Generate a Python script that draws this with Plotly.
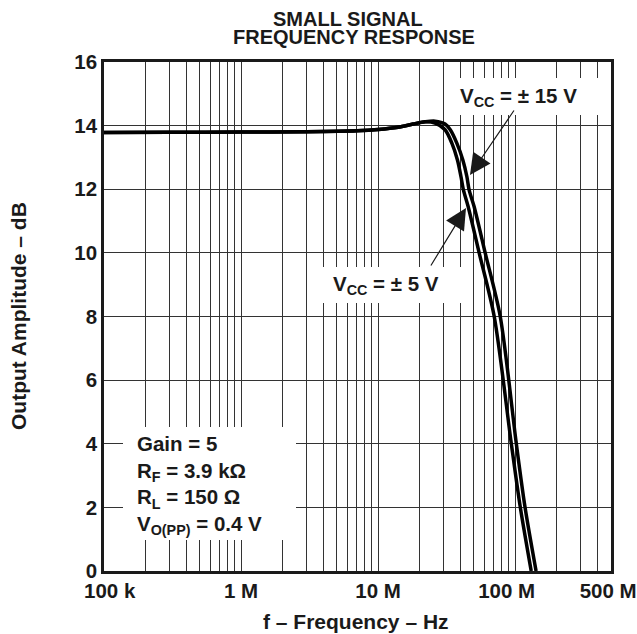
import math
import plotly.graph_objects as go

# ---- data ----
freq_5v = [1e5, 3e5, 1e6, 3e6, 7e6, 1.0e7, 1.4e7, 1.8e7, 2.2e7, 2.6e7, 3.08e7, 3.45e7,
           3.79e7, 4.02e7, 4.19e7, 4.54e7, 5.46e7, 7.03e7, 9.35e7, 1.086e8, 1.309e8]
amp_5v = [13.78, 13.79, 13.80, 13.81, 13.84, 13.88, 13.95, 14.05, 14.12, 14.08, 13.87, 13.45,
          12.92, 12.40, 11.98, 11.45, 10.0, 8.0, 4.03, 2.04, 0.0]

freq_15v = [1e5, 3e5, 1e6, 3e6, 7e6, 1.0e7, 1.4e7, 1.8e7, 2.2e7, 2.6e7, 3.08e7, 3.36e7, 3.75e7,
            4.15e7, 4.44e7, 4.61e7, 5.02e7, 6.04e7, 7.78e7, 1.017e8, 1.176e8, 1.42e8]
amp_15v = [13.78, 13.79, 13.80, 13.81, 13.84, 13.88, 13.95, 14.05, 14.12, 14.14, 14.05, 13.87,
           13.45, 12.92, 12.40, 11.98, 11.45, 10.0, 8.0, 4.03, 2.04, 0.0]

x_grid = [m * 10 ** e for e in range(5, 9) for m in range(1, 10)]
x_grid = [v for v in x_grid if v <= 5e8]
x_labels = {1e5: "100 k", 1e6: "1 M", 1e7: "10 M", 1e8: "100 M", 5e8: "500 M"}
y_ticks = [0, 2, 4, 6, 8, 10, 12, 14, 16]

FONT = "Arial, Liberation Sans, Helvetica, sans-serif"
INK = "#1a1a1a"
NB = "&nbsp;"

# plot area in pixels
L, R, T, B = 104, 611, 62, 571


def px_x(px):
    return (px - L) / (R - L)


def px_y(py):
    return (B - py) / (B - T)


fig = go.Figure()
for fx, fy, name in [(freq_5v, amp_5v, "VCC = ±5 V"), (freq_15v, amp_15v, "VCC = ±15 V")]:
    fig.add_trace(go.Scatter(x=fx, y=fy, mode="lines", name=name,
                             line=dict(color="black", width=3.5, shape="spline", smoothing=0.8),
                             showlegend=False, cliponaxis=True))

# small per-label nudges as in the original artwork
pad = {1e5: (2, 0), 1e8: (0, 3), 5e8: (0, 1)}


def fmt(v):
    t = x_labels.get(v, "")
    if not t:
        return ""
    lead, trail = pad.get(v, (0, 0))
    return NB * lead + f"<b>{t}</b>" + NB * trail


fig.update_layout(
    width=637, height=634,
    margin=dict(l=L, r=637 - R, t=T, b=634 - B, autoexpand=False),
    paper_bgcolor="white", plot_bgcolor="white",
    font=dict(family=FONT, color=INK, size=20),
    xaxis=dict(type="log", range=[5, math.log10(5e8) + 1e-6], tickmode="array", tickvals=x_grid,
               ticktext=[fmt(v) for v in x_grid], automargin=False,
               ticklabeloverflow="allow",
               showgrid=True, gridcolor="#333", gridwidth=1.3,
               showline=True, linecolor=INK, linewidth=2.5, mirror=True,
               ticks="", ticklen=0, tickfont=dict(size=20.5, family=FONT, color=INK),
               zeroline=False),
    yaxis=dict(range=[0, 16], tickmode="array", tickvals=y_ticks,
               ticktext=[f"<b>{v}</b>" for v in y_ticks], automargin=False,
               ticklabeloverflow="allow",
               showgrid=True, gridcolor="#333", gridwidth=1.3,
               showline=True, linecolor=INK, linewidth=2.5, mirror=True,
               ticks="", ticklen=0, tickfont=dict(size=20.5, family=FONT, color=INK),
               zeroline=False),
)

# white boxes that hide the grid behind the labels
for x0, x1, y0, y1 in [(123, 296, 427, 540), (313, 465, 267, 303), (448, 605, 78, 115)]:
    fig.add_shape(type="rect", xref="paper", yref="paper",
                  x0=px_x(x0), x1=px_x(x1), y0=px_y(y1), y1=px_y(y0),
                  fillcolor="white", line=dict(width=0), layer="above")

# Titles
fig.add_annotation(xref="paper", yref="paper", x=px_x(348), y=px_y(19), showarrow=False,
                   text="<b>SMALL SIGNAL</b>", font=dict(size=20, family=FONT, color=INK),
                   xanchor="center", yanchor="middle")
fig.add_annotation(xref="paper", yref="paper", x=px_x(354), y=px_y(37), showarrow=False,
                   text="<b>FREQUENCY RESPONSE</b>", font=dict(size=20, family=FONT, color=INK),
                   xanchor="center", yanchor="middle")
fig.add_annotation(xref="paper", yref="paper", x=px_x(356), y=px_y(622), showarrow=False,
                   text="<b>f – Frequency – Hz</b>", font=dict(size=21, family=FONT, color=INK),
                   xanchor="center", yanchor="middle")
fig.add_annotation(xref="paper", yref="paper", x=px_x(18), y=px_y(316), showarrow=False,
                   text="<b>Output Amplitude – dB</b>", textangle=-90,
                   font=dict(size=21, family=FONT, color=INK),
                   xanchor="center", yanchor="middle")

# Labels
fig.add_annotation(xref="paper", yref="paper", x=px_x(518), y=px_y(97),
                   text="<b>V<sub>CC</sub> = ± 15 V</b>", showarrow=False,
                   font=dict(size=20.5, family=FONT, color=INK),
                   xanchor="center", yanchor="middle")
fig.add_annotation(xref="paper", yref="paper", x=px_x(386), y=px_y(285),
                   text="<b>V<sub>CC</sub> = ± 5 V</b>", showarrow=False,
                   font=dict(size=20.5, family=FONT, color=INK),
                   xanchor="center", yanchor="middle")
fig.add_annotation(xref="paper", yref="paper", x=px_x(135), y=px_y(485),
                   text=("<b>Gain = 5<br>R<sub>F</sub> = 3.9 kΩ<br>R<sub>L</sub> = 150 Ω<br>"
                         "V<sub>O(PP)</sub> = 0.4 V</b>"),
                   showarrow=False, align="left",
                   font=dict(size=20.5, family=FONT, color=INK),
                   xanchor="left", yanchor="middle")

# Arrows
fig.add_annotation(xref="paper", yref="paper", x=px_x(470), y=px_y(175),
                   ax=45, ay=-66, text="", showarrow=True, arrowhead=2, arrowsize=3.5,
                   arrowwidth=1.2, arrowcolor=INK)
fig.add_annotation(xref="paper", yref="paper", x=px_x(466), y=px_y(208),
                   ax=-36, ay=59, text="", showarrow=True, arrowhead=2, arrowsize=3.5,
                   arrowwidth=1.2, arrowcolor=INK)

fig.write_html(
    "out.html",
    config={"displayModeBar": False},
    post_script="document.body.style.margin='0';document.body.style.overflow='hidden';",
)
